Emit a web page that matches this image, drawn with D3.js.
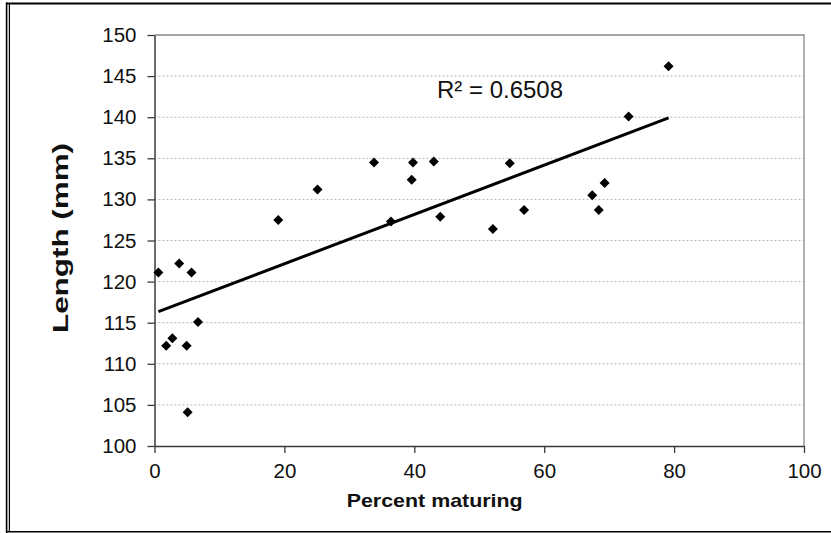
<!DOCTYPE html>
<html><head><meta charset="utf-8">
<script src="https://cdn.jsdelivr.net/npm/d3@7"></script>
<style>body{margin:0;background:#fff}svg{display:block}</style>
</head><body><svg id="c" width="831" height="533"></svg>
<script>
const percentMaturing = [0.6, 1.8, 2.75, 3.8, 4.95, 5.1, 5.7, 6.7, 19.05, 25.1, 33.8, 36.4, 39.6, 39.8, 43.0, 44.0, 52.1, 54.7, 56.9, 67.4, 68.4, 69.3, 73.0, 79.15];
const lengthMm = [121.1, 112.2, 113.1, 122.2, 112.2, 104.1, 121.1, 115.1, 127.5, 131.2, 134.5, 127.3, 132.4, 134.5, 134.6, 127.9, 126.4, 134.4, 128.7, 130.5, 128.7, 132.0, 140.1, 146.2];
const xTicks = [0, 20, 40, 60, 80, 100];
const yTicks = [100, 105, 110, 115, 120, 125, 130, 135, 140, 145, 150];
const r2Label = "R² = 0.6508";
const xTitle = "Percent maturing";
const yTitle = "Length (mm)";

const FONT = "'Liberation Sans', Arial, sans-serif";
const svg = d3.select("#c");
svg.append("rect").attr("width", 831).attr("height", 533).attr("fill", "#fff");

const x = d3.scaleLinear().domain([0, 100]).range([154.5, 804]);
const y = d3.scaleLinear().domain([100, 150]).range([446, 35]);

// outer frame
svg.append("line").attr("x1", 6).attr("x2", 831).attr("y1", 3.5).attr("y2", 3.5).attr("stroke", "#000").attr("stroke-width", 2.2);
svg.append("line").attr("x1", 6.6).attr("x2", 6.6).attr("y1", 2.5).attr("y2", 533).attr("stroke", "#000").attr("stroke-width", 1.6);
svg.append("line").attr("x1", 9.4).attr("x2", 9.4).attr("y1", 4).attr("y2", 532).attr("stroke", "#000").attr("stroke-width", 1.2);
svg.append("line").attr("x1", 6).attr("x2", 831).attr("y1", 531.8).attr("y2", 531.8).attr("stroke", "#000").attr("stroke-width", 1.6);

// gridlines
svg.append("g").selectAll("line").data(yTicks.filter(v => v > 100 && v < 150)).join("line")
  .attr("x1", x(0)).attr("x2", x(100)).attr("y1", d => y(d)).attr("y2", d => y(d))
  .attr("stroke", "#b8b8b8").attr("stroke-width", 1).attr("stroke-dasharray", "2,2");

// plot border top/right
svg.append("path").attr("d", `M${x(0)},${y(150)}H${x(100)}V${y(100)}`)
  .attr("fill", "none").attr("stroke", "#8a8a8a").attr("stroke-width", 1.3);

// axes
const yAxis = svg.append("g").attr("transform", `translate(${x(0)},0)`)
  .call(d3.axisLeft(y).tickValues(yTicks).tickSize(7).tickSizeOuter(0).tickPadding(11).tickFormat(d3.format("d")));
const xAxis = svg.append("g").attr("transform", `translate(0,${y(100)})`)
  .call(d3.axisBottom(x).tickValues(xTicks).tickSize(7).tickSizeOuter(0).tickPadding(10).tickFormat(d3.format("d")));
[xAxis, yAxis].forEach(g => {
  g.select(".domain").attr("stroke", "#3a3a3a").attr("stroke-width", 1.5);
  g.selectAll(".tick line").attr("stroke", "#3a3a3a").attr("stroke-width", 1.3);
  g.selectAll(".tick text").attr("font-family", FONT).attr("font-size", 20.5).attr("fill", "#111");
});

// trendline (least squares)
const n = percentMaturing.length;
const mx = d3.mean(percentMaturing), my = d3.mean(lengthMm);
let sxy = 0, sxx = 0;
for (let i = 0; i < n; i++) { sxy += (percentMaturing[i] - mx) * (lengthMm[i] - my); sxx += (percentMaturing[i] - mx) ** 2; }
const slope = sxy / sxx, icpt = my - slope * mx;
const [xmin, xmax] = d3.extent(percentMaturing);
svg.append("line")
  .attr("x1", x(xmin)).attr("y1", y(icpt + slope * xmin))
  .attr("x2", x(xmax)).attr("y2", y(icpt + slope * xmax))
  .attr("stroke", "#000").attr("stroke-width", 3);

// points
const sym = d3.symbol(d3.symbolSquare, 50);
svg.append("g").selectAll("path").data(percentMaturing.map((v, i) => [v, lengthMm[i]])).join("path")
  .attr("d", sym)
  .attr("transform", d => `translate(${x(d[0])},${y(d[1])}) rotate(45)`)
  .attr("fill", "#000");

// labels
svg.append("text").attr("x", 500).attr("y", 98.3).attr("text-anchor", "middle")
  .attr("font-family", FONT).attr("font-size", 24).attr("fill", "#111").text(r2Label);
svg.append("text").attr("x", 434.7).attr("y", 507).attr("text-anchor", "middle")
  .attr("font-family", FONT).attr("font-size", 19).attr("font-weight", "bold").attr("fill", "#111")
  .attr("textLength", 176).attr("lengthAdjust", "spacingAndGlyphs").text(xTitle);
svg.append("text").attr("transform", `translate(68,238) rotate(-90)`).attr("text-anchor", "middle")
  .attr("font-family", FONT).attr("font-size", 22).attr("font-weight", "bold").attr("fill", "#111")
  .attr("textLength", 190).attr("lengthAdjust", "spacingAndGlyphs")
  .text(yTitle);
</script></body></html>
